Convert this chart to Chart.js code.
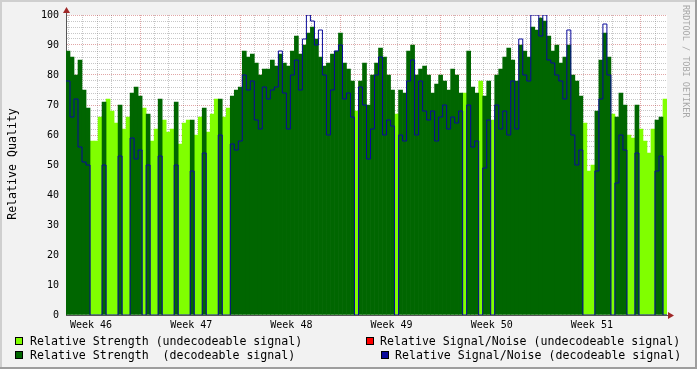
<!DOCTYPE html>
<html>
<head>
<meta charset="utf-8">
<script src="https://cdn.jsdelivr.net/npm/chart.js@4/dist/chart.umd.min.js"></script>
<style>
  html, body { margin: 0; padding: 0; background: #f2f2f2; }
  #wrap { position: relative; width: 697px; height: 369px; overflow: hidden; font-family: "DejaVu Sans Mono", monospace; }
  #wrap canvas { position: absolute; left: 0; top: 0; }
  .txt { position: absolute; font-size: 11.6px; line-height: 14px; color: #000; white-space: pre; }
  .sw { position: absolute; width: 6px; height: 6px; border: 1px solid #000; }
  #ytitle { position: absolute; left: 12px; top: 164px; transform: translate(-50%, -50%) rotate(-90deg); font-size: 11.6px; white-space: pre; color: #000; }
  #credit { position: absolute; left: 681px; top: 5px; writing-mode: vertical-rl; font-size: 8.5px; line-height: 10px; color: #a8a8a8; white-space: pre; }
</style>
</head>
<body>
<div id="wrap">
  <canvas id="chart"></canvas>
  <div id="ytitle">Relative Quality</div>
  <div id="credit">RRDTOOL / TOBI OETIKER</div>
  <div class="sw" style="left:15px;top:337px;background:#80ff00"></div>
  <div class="txt" style="left:30px;top:334px">Relative Strength (undecodeable signal)</div>
  <div class="sw" style="left:15px;top:351px;background:#006600"></div>
  <div class="txt" style="left:30px;top:348px">Relative Strength  (decodeable signal)</div>
  <div class="sw" style="left:366px;top:337px;background:#ff0000"></div>
  <div class="txt" style="left:380px;top:334px">Relative Signal/Noise (undecodeable signal)</div>
  <div class="sw" style="left:381px;top:351px;background:#0a0a9a"></div>
  <div class="txt" style="left:395px;top:348px">Relative Signal/Noise (decodeable signal)</div>
</div>
<script>
// one value per ~1/25 week
var strength = [
  88, 86, 80, 85, 75, 69, 58, 58, 66, 71,
  72, 68, 64, 70, 62, 66, 74, 76, 73, 69,
  67, 58, 62, 72, 65, 61, 62, 71, 57, 64,
  65, 65, 60, 66, 69, 61, 67, 72, 72, 66,
  69, 73, 75, 76, 88, 86, 87, 84, 80, 82,
  82, 85, 83, 87, 84, 83, 88, 93, 87, 90,
  94, 96, 92, 86, 83, 84, 87, 88, 94, 84,
  82, 78, 68, 78, 84, 70, 80, 84, 89, 86,
  80, 75, 67, 75, 74, 88, 90, 80, 82, 83,
  80, 74, 77, 80, 78, 75, 82, 80, 74, 74,
  88, 76, 74, 78, 73, 78, 65, 80, 82, 86,
  89, 85, 78, 90, 88, 86, 96, 95, 99, 98,
  93, 88, 90, 84, 86, 90, 80, 78, 73, 64,
  48, 50, 68, 85, 94, 86, 67, 66, 74, 70,
  60, 59, 70, 62, 58, 54, 62, 65, 66, 72
];
// 1 = decodeable, 0 = undecodeable
var decoded = [
  1, 1, 1, 1, 1, 1, 0, 0, 0, 1,
  0, 0, 0, 1, 0, 0, 1, 1, 1, 0,
  1, 0, 0, 1, 0, 0, 0, 1, 0, 0,
  0, 1, 0, 0, 1, 0, 0, 0, 1, 0,
  0, 1, 1, 1, 1, 1, 1, 1, 1, 1,
  1, 1, 1, 1, 1, 1, 1, 1, 1, 1,
  1, 1, 1, 1, 1, 1, 1, 1, 1, 1,
  1, 1, 0, 1, 1, 1, 1, 1, 1, 1,
  1, 1, 0, 1, 1, 1, 1, 1, 1, 1,
  1, 1, 1, 1, 1, 1, 1, 1, 1, 0,
  1, 1, 1, 0, 1, 1, 0, 1, 1, 1,
  1, 1, 1, 1, 1, 1, 1, 1, 1, 1,
  1, 1, 1, 1, 1, 1, 1, 1, 1, 0,
  0, 0, 1, 1, 1, 1, 0, 1, 1, 1,
  0, 0, 1, 0, 0, 0, 0, 1, 1, 0
];
// signal/noise of decodeable signal (0 when nothing decoded)
var snr = [
  78, 66, 72, 56, 51, 50, 0, 0, 0, 50,
  0, 0, 0, 53, 0, 0, 59, 52, 55, 0,
  50, 0, 0, 53, 0, 0, 0, 50, 0, 0,
  0, 48, 0, 0, 54, 0, 0, 0, 60, 0,
  0, 57, 55, 58, 80, 75, 78, 65, 62, 76,
  72, 75, 76, 88, 74, 62, 80, 85, 75, 92,
  100, 98, 90, 95, 80, 60, 75, 88, 90, 72,
  74, 66, 0, 76, 70, 52, 62, 80, 86, 60,
  65, 63, 0, 60, 58, 78, 85, 60, 78, 68,
  65, 68, 58, 66, 70, 62, 66, 64, 68, 0,
  70, 56, 58, 0, 49, 65, 0, 70, 62, 68,
  60, 78, 62, 92, 80, 78, 100, 100, 93, 100,
  85, 84, 80, 78, 72, 95, 60, 50, 55, 0,
  0, 0, 48, 72, 97, 80, 0, 44, 60, 55,
  0, 0, 54, 0, 0, 0, 0, 48, 53, 0
];
var weekLabels = ['Week 46', 'Week 47', 'Week 48', 'Week 49', 'Week 50', 'Week 51'];

var binsPerWeek = 25;
var dayBins = binsPerWeek / 7;
var firstWeekLine = 18; // first week boundary, in bins

var gridGrey = 'rgba(130,130,130,0.45)';
var gridRed = 'rgba(170,0,0,0.35)';

function xTicks() {
  var t = [];
  for (var m = -5; m <= 36; m++) {
    t.push({ value: firstWeekLine + m * dayBins, kind: m % 7 === 0 ? 'week' : 'day' });
  }
  weekLabels.forEach(function (w, j) {
    t.push({ value: firstWeekLine - binsPerWeek / 2 + 0.25 + binsPerWeek * j, kind: 'label', text: w });
  });
  return t.sort(function (a, b) { return a.value - b.value; });
}

var lightData = [], darkData = [], snrData = [];
strength.forEach(function (v, i) {
  lightData.push({ x: i, y: decoded[i] ? null : v });
  darkData.push({ x: i, y: decoded[i] ? v : null });
  snrData.push({ x: i - 0.5, y: snr[i] });
});
snrData.push({ x: strength.length - 0.5, y: snr[snr.length - 1] });

var frame = {
  id: 'frame',
  beforeDraw: function (chart) {
    var c = chart.ctx, a = chart.chartArea;
    c.save();
    c.fillStyle = '#f2f2f2';
    c.fillRect(0, 0, chart.width, chart.height);
    c.fillStyle = '#cfcfcf';
    c.fillRect(0, 0, chart.width, 2);
    c.fillRect(0, 0, 2, chart.height);
    c.fillStyle = '#9e9e9e';
    c.fillRect(chart.width - 2, 0, 2, chart.height);
    c.fillRect(0, chart.height - 2, chart.width, 2);
    c.fillStyle = '#ffffff';
    c.fillRect(a.left, a.top, a.right - a.left, a.bottom - a.top);
    c.restore();
  },
  afterDraw: function (chart) {
    var c = chart.ctx, a = chart.chartArea;
    c.save();
    c.strokeStyle = '#555';
    c.lineWidth = 1;
    c.beginPath();
    c.moveTo(a.left + 0.5, a.top);
    c.lineTo(a.left + 0.5, a.top - 3);
    c.moveTo(a.right, a.bottom + 0.5);
    c.lineTo(a.right + 2, a.bottom + 0.5);
    c.stroke();
    c.fillStyle = '#a02828';
    c.beginPath();
    c.moveTo(a.left + 0.5, a.top - 8);
    c.lineTo(a.left - 3, a.top - 2);
    c.lineTo(a.left + 4, a.top - 2);
    c.closePath();
    c.fill();
    c.beginPath();
    c.moveTo(a.right + 7, a.bottom + 0.5);
    c.lineTo(a.right + 1, a.bottom - 3);
    c.lineTo(a.right + 1, a.bottom + 4);
    c.closePath();
    c.fill();
    c.restore();
  }
};

Chart.defaults.font.family = 'DejaVu Sans Mono';

new Chart(document.getElementById('chart'), {
  type: 'bar',
  data: {
    datasets: [
      {
        type: 'line',
        label: 'Relative Signal/Noise (decodeable signal)',
        data: snrData,
        stepped: true,
        borderColor: '#0a0a9a',
        borderWidth: 1,
        pointRadius: 0,
        fill: false,
        order: 0
      },
      {
        label: 'Relative Strength  (decodeable signal)',
        data: darkData,
        backgroundColor: '#006600',
        borderWidth: 0,
        barPercentage: 1,
        categoryPercentage: 1,
        grouped: false,
        order: 1
      },
      {
        label: 'Relative Strength (undecodeable signal)',
        data: lightData,
        backgroundColor: '#80ff00',
        borderWidth: 0,
        barPercentage: 1,
        categoryPercentage: 1,
        grouped: false,
        order: 2
      }
    ]
  },
  options: {
    responsive: true,
    maintainAspectRatio: false,
    animation: false,
    layout: { padding: { top: 15, right: 30, bottom: 0, left: 0 } },
    plugins: { legend: { display: false }, tooltip: { enabled: false } },
    scales: {
      x: {
        type: 'linear',
        offset: false,
        min: -0.5,
        max: strength.length - 0.5,
        z: 1,
        afterBuildTicks: function (scale) { scale.ticks = xTicks(); },
        afterFit: function (scale) { scale.height = 54; },
        ticks: {
          autoSkip: false,
          maxRotation: 0,
          minRotation: 0,
          padding: 4,
          color: '#000',
          font: { size: 10 },
          callback: function (v, i, ticks) { return ticks[i].text || ''; }
        },
        grid: {
          offset: false,
          drawTicks: false,
          lineWidth: 1,
          color: function (ctx) {
            var k = ctx.tick && ctx.tick.kind;
            if (k === 'label') return 'rgba(0,0,0,0)';
            return k === 'week' ? gridRed : gridGrey;
          }
        },
        border: { color: '#555', dash: [1, 1] }
      },
      y: {
        min: 0,
        max: 100,
        z: 1,
        afterFit: function (scale) { scale.width = 66; },
        ticks: {
          stepSize: 2,
          autoSkip: false,
          padding: 7,
          color: '#000',
          font: { size: 10 },
          callback: function (v) { return Math.round(v) % 10 === 0 ? Math.round(v) : ''; }
        },
        grid: {
          drawTicks: false,
          lineWidth: 1,
          color: function (ctx) {
            return ctx.tick && Math.round(ctx.tick.value) % 10 === 0 ? gridRed : gridGrey;
          }
        },
        border: { color: '#555', dash: [1, 1] }
      }
    }
  },
  plugins: [frame]
});
</script>
</body>
</html>
